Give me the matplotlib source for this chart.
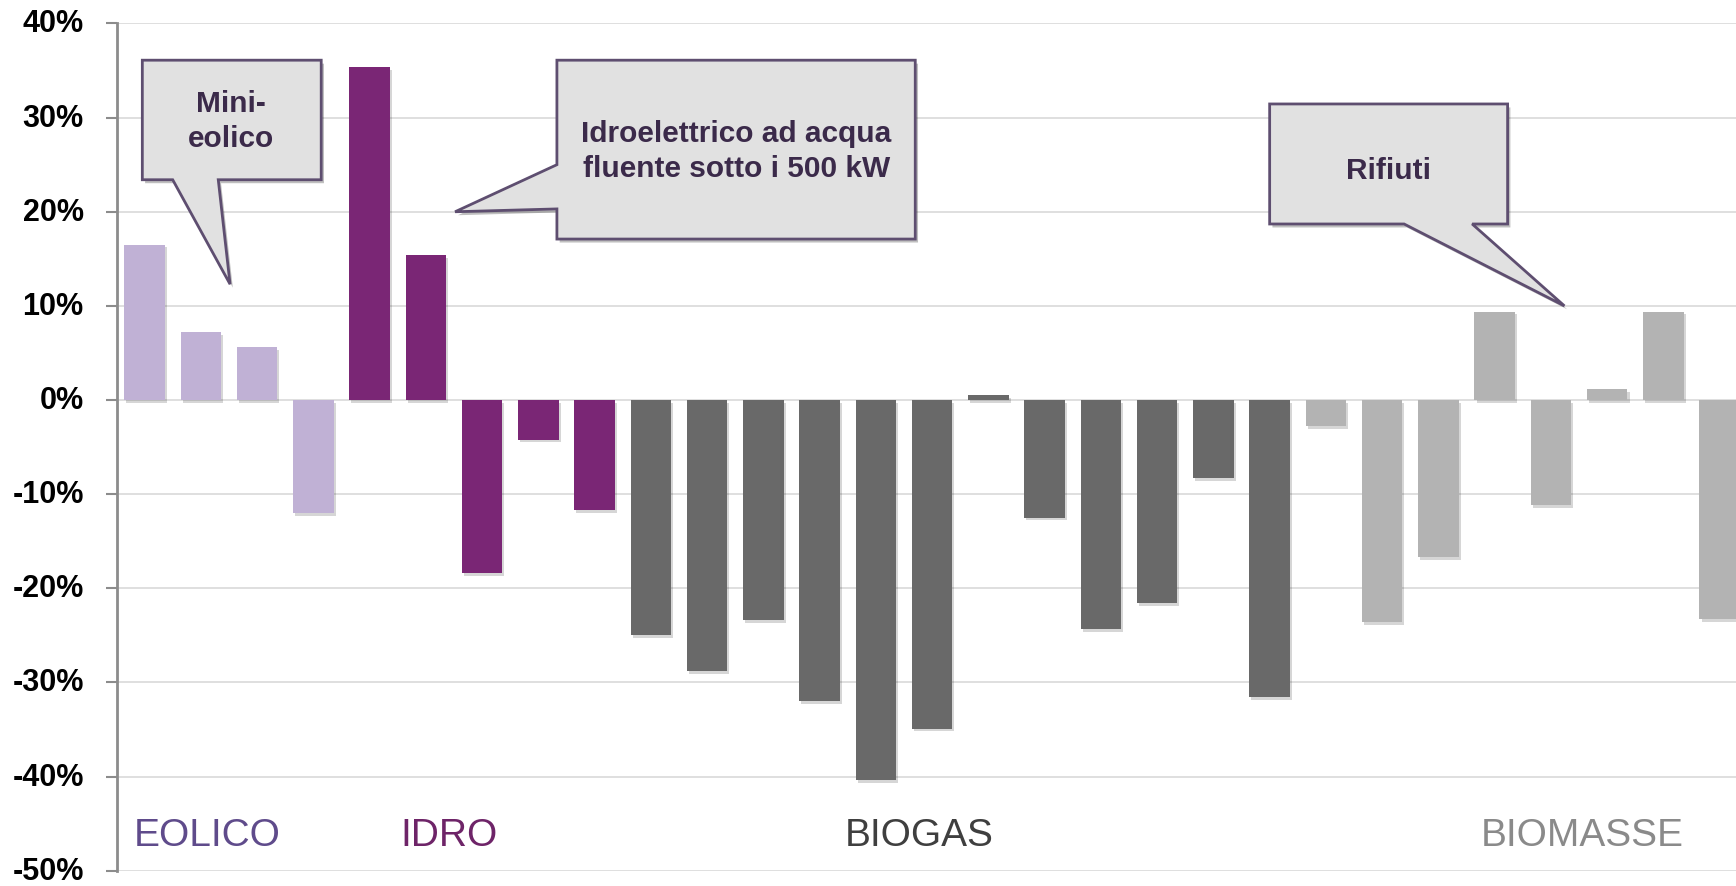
import numpy as np
import matplotlib
matplotlib.use('Agg')
from matplotlib import pyplot as plt
from matplotlib.patches import Polygon
import matplotlib.patheffects as pe

# variazione percentuale per impianto, raggruppata per fonte
eolico = [16.5, 7.2, 5.6, -12.0]
idro = [35.4, 15.4, -18.4, -4.2, -11.7]
biogas = [-25.0, -28.8, -23.4, -32.0, -40.4, -34.9, 0.5, -12.5, -24.3, -21.6, -8.3, -31.6]
biomasse = [-2.8, -23.6, -16.7, 9.4, -11.2, 1.2, 9.4, -23.3]

gruppi = ['EOLICO', 'IDRO', 'BIOGAS', 'BIOMASSE']
colori_barre = ['#C0B1D5', '#7A2675', '#696969', '#B3B3B3']
colori_testo = ['#5F4B8B', '#6E2468', '#3F3F3F', '#8A8A8A']
yticks = [-50, -40, -30, -20, -10, 0, 10, 20, 30, 40]

narrow = ['Liberation Sans Narrow', 'Liberation Sans', 'DejaVu Sans']

fig = plt.figure(figsize=(17.36, 8.87), dpi=100)
ax = fig.add_axes([0.0674, 0.01725, 1 - 0.0674, 0.9724 - 0.01725])

serie = [eolico, idro, biogas, biomasse]
valori = np.concatenate(serie)
colori = np.concatenate([[c] * len(s) for c, s in zip(colori_barre, serie)])
x = np.arange(len(valori))

ombra = [pe.SimplePatchShadow(offset=(1.5, -2), shadow_rgbFace='#000000', alpha=0.16), pe.Normal()]
bars = ax.bar(x, valori, width=0.72, color=colori, zorder=3)
for b in bars:
    b.set_path_effects(ombra)

ax.set_xlim(-0.49, 28.29)
ax.set_ylim(-50, 40)
ax.set_yticks(yticks)
ax.set_yticklabels(['%d%%' % v for v in yticks], family=narrow, fontweight='bold', fontsize=22)
for lab in ax.get_yticklabels():
    lab.set_verticalalignment('center')
ax.set_xticks([])
ax.grid(axis='y', color='#DCDCDC', linewidth=1.3, zorder=0)
ax.set_axisbelow(True)
for s in ['top', 'right', 'bottom']:
    ax.spines[s].set_visible(False)
ax.spines['left'].set_color('#8C8C8C')
ax.spines['left'].set_linewidth(2)
ax.tick_params(axis='y', length=8, width=1.5, color='#8C8C8C', pad=16)

# nomi dei gruppi in basso
pos_gruppi = [-0.2, 4.54, 12.45, 23.75]
for nome, xg, c in zip(gruppi, pos_gruppi, colori_testo):
    ax.text(xg, -47.3, nome, color=c, fontsize=28, family=narrow, ha='left', va='baseline', zorder=5)

# fumetti
box_fc = '#E1E1E1'
box_ec = '#5E4E70'
txt_c = '#3B2A4A'
ombra_box = [pe.SimplePatchShadow(offset=(2, -2.5), shadow_rgbFace='#000000', alpha=0.25), pe.Normal()]

fumetti = [
    [(-0.04, 36.1), (3.14, 36.1), (3.14, 23.4), (1.31, 23.4), (1.52, 12.3), (0.50, 23.4), (-0.04, 23.4)],
    [(7.33, 36.1), (13.70, 36.1), (13.70, 17.1), (7.33, 17.1), (7.33, 20.3), (5.52, 20.0), (7.33, 25.0)],
    [(20.0, 31.45), (24.23, 31.45), (24.23, 18.7), (23.6, 18.7), (25.24, 10.0), (22.39, 18.7), (20.0, 18.7)],
]
for verts in fumetti:
    p = Polygon(verts, closed=True, facecolor=box_fc, edgecolor=box_ec, linewidth=2,
                joinstyle='miter', zorder=6, clip_on=False)
    p.set_path_effects(ombra_box)
    ax.add_patch(p)

testi = [
    (1.54, 29.7, 'Mini-\neolico'),
    (10.52, 26.5, 'Idroelettrico ad acqua\nfluente sotto i 500 kW'),
    (22.12, 24.4, 'Rifiuti'),
]
for tx, ty, t in testi:
    ax.text(tx, ty, t, ha='center', va='center', color=txt_c, fontsize=21.5, fontweight='bold',
            family=narrow, linespacing=1.3, zorder=7)

plt.savefig('out.png', dpi=100)
plt.close()
